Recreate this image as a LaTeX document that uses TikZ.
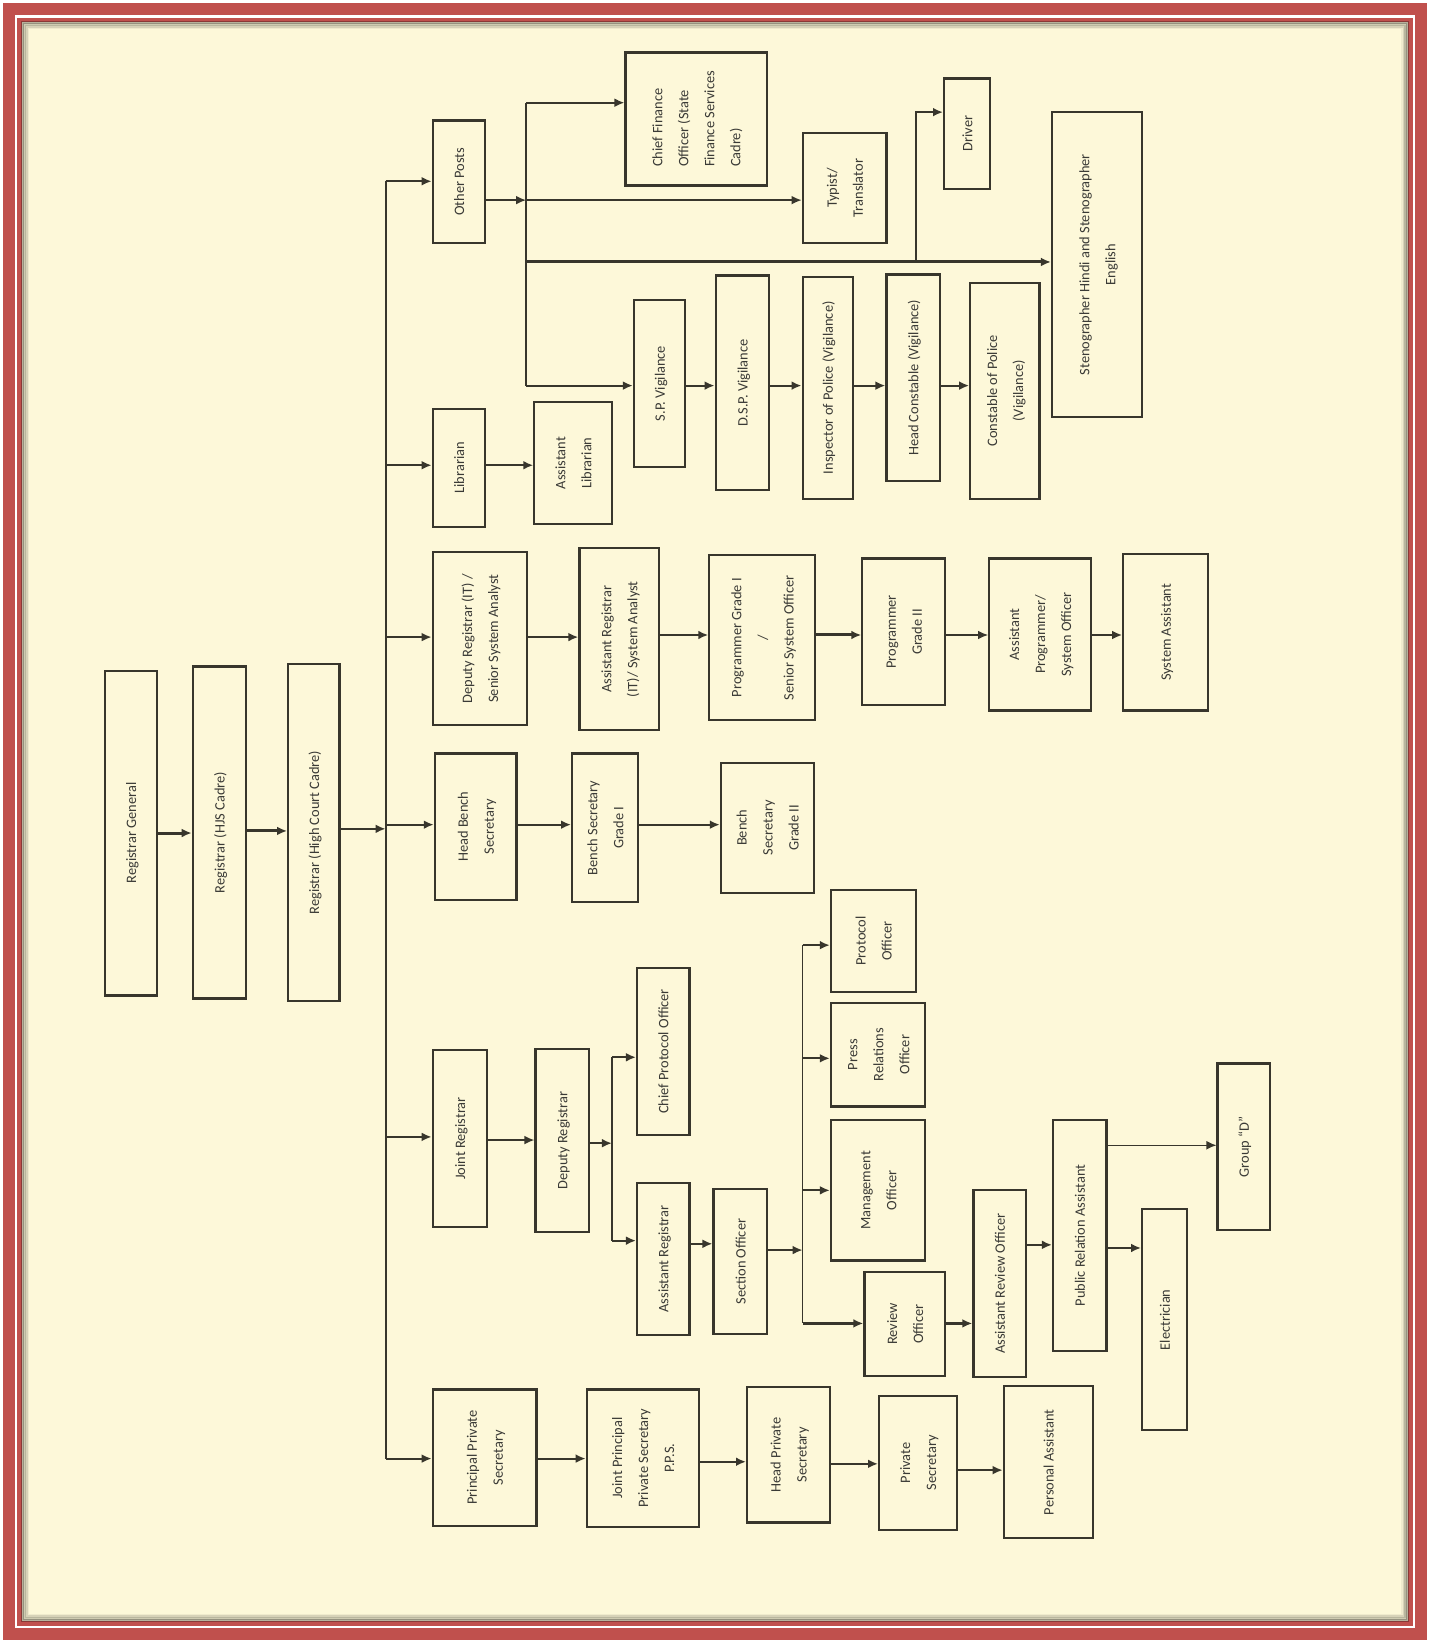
\documentclass[tikz,border=0pt]{standalone}
\usepackage{fontspec}
\usepackage{graphicx}
\setmainfont{Carlito}
\usetikzlibrary{arrows.meta}
\definecolor{framered}{HTML}{C0504D}
\definecolor{cream}{HTML}{FDF8D9}
\definecolor{ink}{HTML}{38362C}
\definecolor{txt}{HTML}{3A3A36}
\tikzset{
  x=0.5238pt, y=-0.5238pt,
  box/.style={draw=ink, line width=1.1pt, fill=cream, inner sep=0pt,
    font=\fontsize{7.2}{13}\selectfont, text=txt},
  link/.style={draw=ink, line width=1.1pt},
  thinlink/.style={draw=ink, line width=0.7pt},
  arr/.style={link, -{Latex[length=5pt,width=4.4pt]}},
  thinarr/.style={arr, line width=0.7pt},
}
\newcommand\bx[6]{\node[box, minimum width={(#4-#2)*0.5238pt}, minimum height={(#5-#3)*0.5238pt}] (#1) at ({(#2+#4)/2},{(#3+#5)/2}) {\rotatebox{90}{\begin{tabular}{@{}c@{}}#6\end{tabular}}};}
\newcommand\bxl[6]{\node[box, minimum width={(#4-#2)*0.5238pt}, minimum height={(#5-#3)*0.5238pt}] (#1) at ({(#2+#4)/2},{(#3+#5)/2}) {\rotatebox{90}{\begin{tabular}{@{}l@{}}#6\end{tabular}}};}
\newcommand\hconn[4][arr]{\draw[#1] (#2.east |- 0,#4) -- (#3.west |- 0,#4);}
\begin{document}
\begin{tikzpicture}
\useasboundingbox (0,0) rectangle (1365,1568);
% frame
\fill[framered] (3,3) rectangle (1362,1565);
\fill[white] (14.3,14.3) rectangle (1350.7,1553.7);
\fill[framered] (16.7,16.7) rectangle (1348.3,1551.3);
\fill[cream] (21,21) rectangle (1344,1547);
\draw[black, opacity=0.28, line width=1.6] (21.8,21.8) rectangle (1343.2,1546.2);
\draw[black, opacity=0.18, line width=1.6] (23.4,23.4) rectangle (1341.6,1544.6);
\draw[black, opacity=0.10, line width=1.6] (25,25) rectangle (1340,1543);
\draw[black, opacity=0.05, line width=1.6] (26.6,26.6) rectangle (1338.4,1541.4);

% top chain
\bx{rg}{100}{640}{150}{950}{Registrar General}
\bx{rhjs}{184}{636}{235}{953}{Registrar (HJS Cadre)}
\bx{rhc}{275}{634}{324}{955}{Registrar (High Court Cadre)}

% first column
\bx{op}{413}{115}{463}{232}{Other Posts}
\bx{lib}{413}{390}{463}{503}{Librarian}
\bx{drit}{413}{527}{503}{692}{Deputy Registrar (IT) /\\ Senior System Analyst}
\bx{hbs}{415}{719}{493}{859}{Head Bench\\ Secretary}
\bx{jr}{413}{1002}{465}{1171}{Joint Registrar}
\bx{pps}{413}{1326}{512}{1456}{Principal Private\\ Secretary}

% other posts
\bxl{cfo}{597}{50}{732}{177}{Chief Finance\\ Officer (State\\ Finance Services\\ Cadre)}
\bx{typ}{766}{127}{846}{232}{Typist/\\ Translator}
\bx{drv}{901}{75}{945}{180}{Driver}
\bx{steno}{1004}{107}{1090}{398}{Stenographer Hindi and Stenographer\\ English}
\bx{sp}{605}{286}{654}{446}{S.P. Vigilance}
\bx{dsp}{683}{263}{734}{468}{D.S.P. Vigilance}
\bx{insp}{766}{264}{814}{476}{Inspector of Police (Vigilance)}
\bx{hcv}{846}{262}{897}{459}{Head Constable (Vigilance)}
\bx{con}{926}{270}{992}{476}{Constable of Police\\ (Vigilance)}

% librarian
\bx{alib}{510}{384}{584}{500}{Assistant\\ Librarian}

% IT
\bx{arit}{553}{523}{629}{697}{Assistant Registrar\\ (IT)/ System Analyst}
\bx{pg1}{677}{530}{778}{687}{Programmer Grade I\\ /\\ Senior System Officer}
\bx{pg2}{823}{533}{902}{673}{Programmer\\ Grade II}
\bx{ap}{944}{533}{1041}{678}{Assistant\\ Programmer/\\ System Officer}
\bx{sa}{1072}{529}{1153}{678}{System Assistant}

% bench
\bx{bs1}{546}{719}{609}{861}{Bench Secretary\\ Grade I}
\bx{bs2}{688}{728}{777}{852}{Bench\\ Secretary\\ Grade II}

% joint registrar
\bx{dr}{511}{1001}{562}{1176}{Deputy Registrar}
\bx{cpo}{608}{924}{658}{1083}{Chief Protocol Officer}
\bx{ar}{608}{1129}{658}{1274}{Assistant Registrar}
\bx{so}{681}{1135}{732}{1273}{Section Officer}
\bx{po}{793}{849}{874}{947}{Protocol\\ Officer}
\bx{pro}{793}{957}{883}{1056}{Press\\ Relations\\ Officer}
\bx{mo}{793}{1069}{883}{1203}{Management\\ Officer}
\bx{ro}{825}{1214}{902}{1313}{Review\\ Officer}
\bx{aro}{929}{1136}{979}{1314}{Assistant Review Officer}
\bx{pra}{1005}{1069}{1056}{1289}{Public Relation Assistant}
\bx{gd}{1162}{1015}{1212}{1174}{Group “D”}
\bx{el}{1090}{1154}{1133}{1365}{Electrician}

% private secretaries
\bx{jpps}{560}{1326}{667}{1457}{Joint Principal\\ Private Secretary\\ P.P.S.}
\bx{hps}{713}{1324}{792}{1453}{Head Private\\ Secretary}
\bx{ps}{839}{1332}{913}{1460}{Private\\ Secretary}
\bx{pa}{958}{1323}{1043}{1468}{Personal Assistant}

% ---- connectors ----
\hconn[arr, line width=1.5pt]{rg}{rhjs}{795}
\hconn[arr, line width=1.5pt]{rhjs}{rhc}{793}
\coordinate (busT) at (368,173);
\coordinate (busB) at (368,1392);
\coordinate (busM) at (368,791);
\draw[arr] (rhc.east |- busM) -- (busM);
\draw[link] (busT) -- (busB);
\draw[arr] (busT) -- (op.west |- busT);
\draw[arr] (busT |- 0,444) -- (lib.west |- 0,444);
\draw[arr] (busT |- 0,608) -- (drit.west |- 0,608);
\draw[arr] (busT |- 0,787) -- (hbs.west |- 0,787);
\draw[arr] (busT |- 0,1085) -- (jr.west |- 0,1085);
\draw[arr] (busB) -- (pps.west |- busB);

% other posts tree
\coordinate (tT) at (502,98);
\coordinate (tO) at (502,191);
\coordinate (tS) at (502,250);
\coordinate (tB) at (502,368);
\coordinate (dJ) at (874,250);
\coordinate (dT) at (874,107);
\draw[thinarr] (op.east |- tO) -- (tO);
\draw[link] (tT) -- (tB);
\draw[arr] (tT) -- (cfo.west |- tT);
\draw[thinarr] (tO) -- (typ.west |- tO);
\draw[arr, line width=1.5pt] (tS) -- (steno.west |- tS);
\draw[arr] (dJ) |- (drv.west |- dT);
\draw[arr] (tB) -- (sp.west |- tB);
\hconn{sp}{dsp}{368}
\hconn{dsp}{insp}{368}
\hconn{insp}{hcv}{368}
\hconn{hcv}{con}{368}

% librarian
\hconn{lib}{alib}{444}

% IT
\hconn{drit}{arit}{608}
\hconn{arit}{pg1}{606}
\hconn[arr, line width=1.5pt]{pg1}{pg2}{606}
\hconn[thinarr]{pg2}{ap}{606}
\hconn{ap}{sa}{606}

% bench
\hconn{hbs}{bs1}{787}
\hconn{bs1}{bs2}{787}

% joint registrar
\hconn[thinarr]{jr}{dr}{1088}
\coordinate (jD) at (584,1091);
\coordinate (jDT) at (584,1009);
\coordinate (jDB) at (584,1184);
\draw[arr] (dr.east |- jD) -- (jD);
\draw[link] (jDT) -- (jDB);
\draw[arr] (jDT) -- (cpo.west |- jDT);
\draw[arr] (jDB) -- (ar.west |- jDB);
\hconn{ar}{so}{1187}
\coordinate (jS) at (766,1193);
\coordinate (jST) at (766,902);
\coordinate (jSB) at (766,1263);
\draw[arr] (so.east |- jS) -- (jS);
\draw[thinlink] (jST) -- (jSB);
\draw[arr] (jST) -- (po.west |- jST);
\draw[arr] (jST |- 0,1010) -- (pro.west |- 0,1010);
\draw[arr] (jST |- 0,1136) -- (mo.west |- 0,1136);
\draw[arr] (jSB) -- (ro.west |- jSB);
\hconn{ro}{aro}{1263}
\hconn{aro}{pra}{1188}
\hconn[thinarr]{pra}{gd}{1093}
\hconn{pra}{el}{1191}

% private secretaries
\hconn{pps}{jpps}{1392}
\hconn{jpps}{hps}{1395}
\hconn{hps}{ps}{1397}
\hconn{ps}{pa}{1403}
\end{tikzpicture}
\end{document}
